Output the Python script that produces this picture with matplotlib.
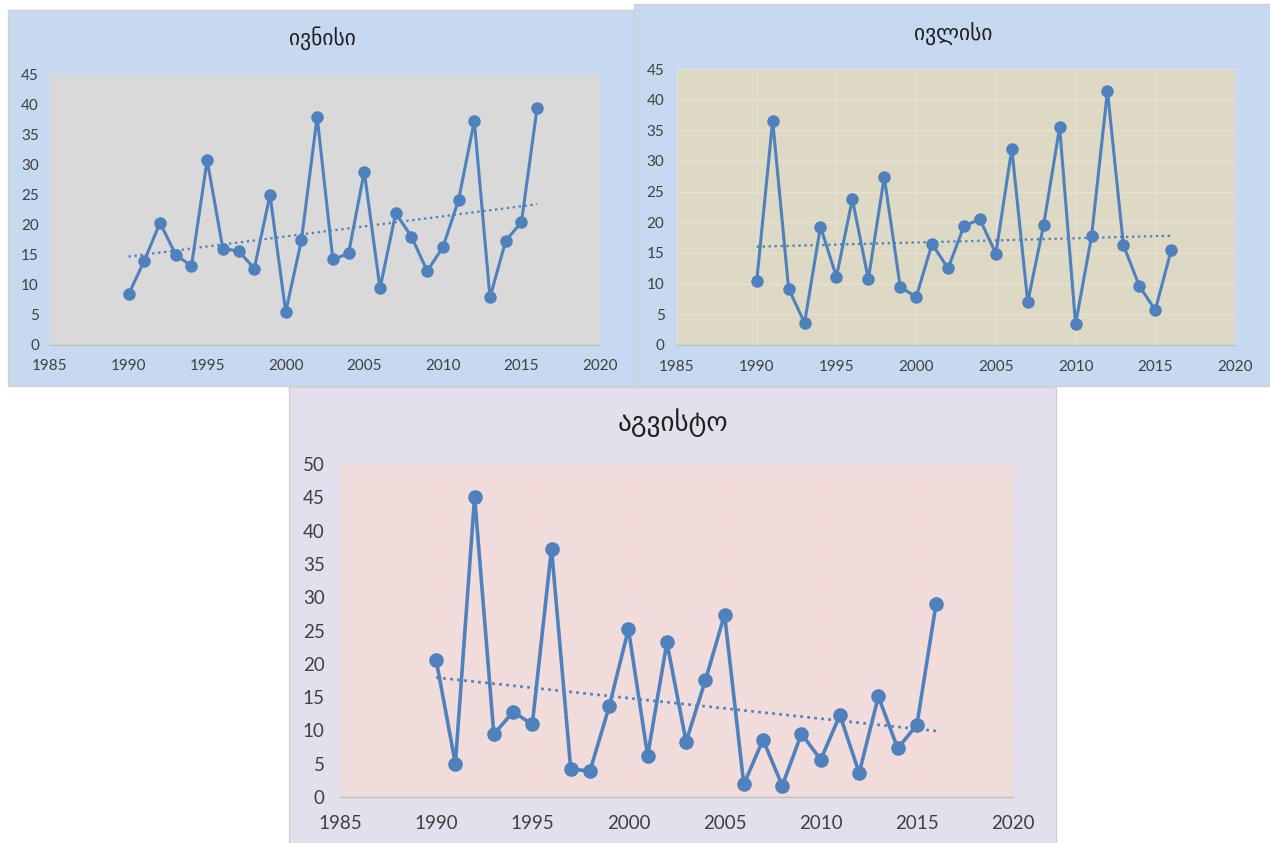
import numpy as np
import matplotlib
matplotlib.use("Agg")
import matplotlib.pyplot as plt
from matplotlib.patches import Rectangle

years = list(range(1990, 2017))
june = [8.4, 14.0, 20.3, 15.0, 13.1, 30.7, 16.0, 15.6, 12.7, 24.9, 5.5, 17.4, 37.9,
        14.2, 15.2, 28.8, 9.4, 21.9, 18.0, 12.3, 16.2, 24.1, 37.2, 7.9, 17.3, 20.4, 39.4]
july = [10.4, 36.6, 9.2, 3.6, 19.3, 11.1, 23.8, 10.7, 27.4, 9.5, 7.8, 16.5, 12.5,
        19.4, 20.5, 14.9, 32.0, 7.0, 19.6, 35.5, 3.4, 17.7, 41.4, 16.3, 9.6, 5.7, 15.5]
august = [20.6, 5.0, 45.1, 9.4, 12.8, 10.9, 37.3, 4.2, 3.9, 13.6, 25.2, 6.2, 23.2,
          8.3, 17.5, 27.4, 1.9, 8.6, 1.7, 9.5, 5.6, 12.3, 3.6, 15.1, 7.3, 10.8, 29.0]
titles = ["ივნისი", "ივლისი", "აგვისტო"]
x_ticks = [1985, 1990, 1995, 2000, 2005, 2010, 2015, 2020]

W, H = 1270, 843
fig = plt.figure(figsize=(W / 100, H / 100), dpi=100)
fig.patch.set_facecolor("white")

LINE = "#4F81BD"
TXT = "#404040"


def box(x0, y0, x1, y1):
    return [x0 / W, 1 - y1 / H, (x1 - x0) / W, (y1 - y0) / H]


def panel(x0, y0, x1, y1, color):
    r = Rectangle((x0 / W, 1 - y1 / H), (x1 - x0) / W, (y1 - y0) / H,
                  transform=fig.transFigure, facecolor=color,
                  edgecolor="#D0D0D0", linewidth=1.0, zorder=-5)
    fig.patches.append(r)


def chart(rect, values, title, tx, ty, tsize, bg, grid, ymax, fsize,
          ms, lw, ypad, xpad):
    ax = fig.add_axes(box(*rect))
    ax.set_zorder(1)
    ax.set_facecolor(bg)
    ax.plot(years, values, color=LINE, lw=lw, marker="o", ms=ms, zorder=3,
            solid_joinstyle="round")
    coef = np.polyfit(years, values, 1)
    tr = np.polyval(coef, [years[0], years[-1]])
    ax.plot([years[0], years[-1]], tr, color=LINE, lw=lw * 0.75,
            ls=(0, (1, 1.6)), zorder=2)
    ax.set_xlim(1985, 2020)
    ax.set_ylim(0, ymax)
    ax.set_xticks(x_ticks)
    ax.set_yticks(range(0, ymax + 1, 5))
    ax.tick_params(length=0, labelsize=fsize, labelcolor=TXT)
    ax.tick_params(axis="y", pad=ypad)
    ax.tick_params(axis="x", pad=xpad)
    for lab in ax.get_xticklabels() + ax.get_yticklabels():
        lab.set_family("Lato")
    for s in ["top", "right", "left"]:
        ax.spines[s].set_visible(False)
    ax.spines["bottom"].set_color("#BFBFBF")
    ax.spines["bottom"].set_linewidth(1.0)
    if grid:
        ax.grid(True, color=grid, lw=1.0, zorder=0)
        ax.set_axisbelow(True)
    fig.text(tx / W, 1 - ty / H, title, ha="center", va="center",
             fontsize=tsize, family="DejaVu Sans", color="#202020", zorder=5)
    return ax


# panel backgrounds
panel(8, 10, 634, 386, "#C6D9F0")
panel(634, 4, 1270, 386, "#C6D9F0")
panel(289, 387, 1056, 843, "#E4DFEC")

chart((50, 74, 600, 345), june, titles[0], 322, 38, 15.5, "#D9D9D9", None, 45,
      11, 8, 2.2, 8, 10)
chart((677, 69, 1235, 345), july, titles[1], 953, 33, 15.5, "#DDD9C4", "#E6E2D3", 45,
      11, 8, 2.2, 9, 10.5)
chart((340, 464, 1013, 797), august, titles[2], 673, 423, 19.5, "#F2DCDB", "#E6E0E0", 50,
      13.5, 9.5, 2.6, 11, 13)

fig.savefig("out.png", dpi=100, facecolor="white")
